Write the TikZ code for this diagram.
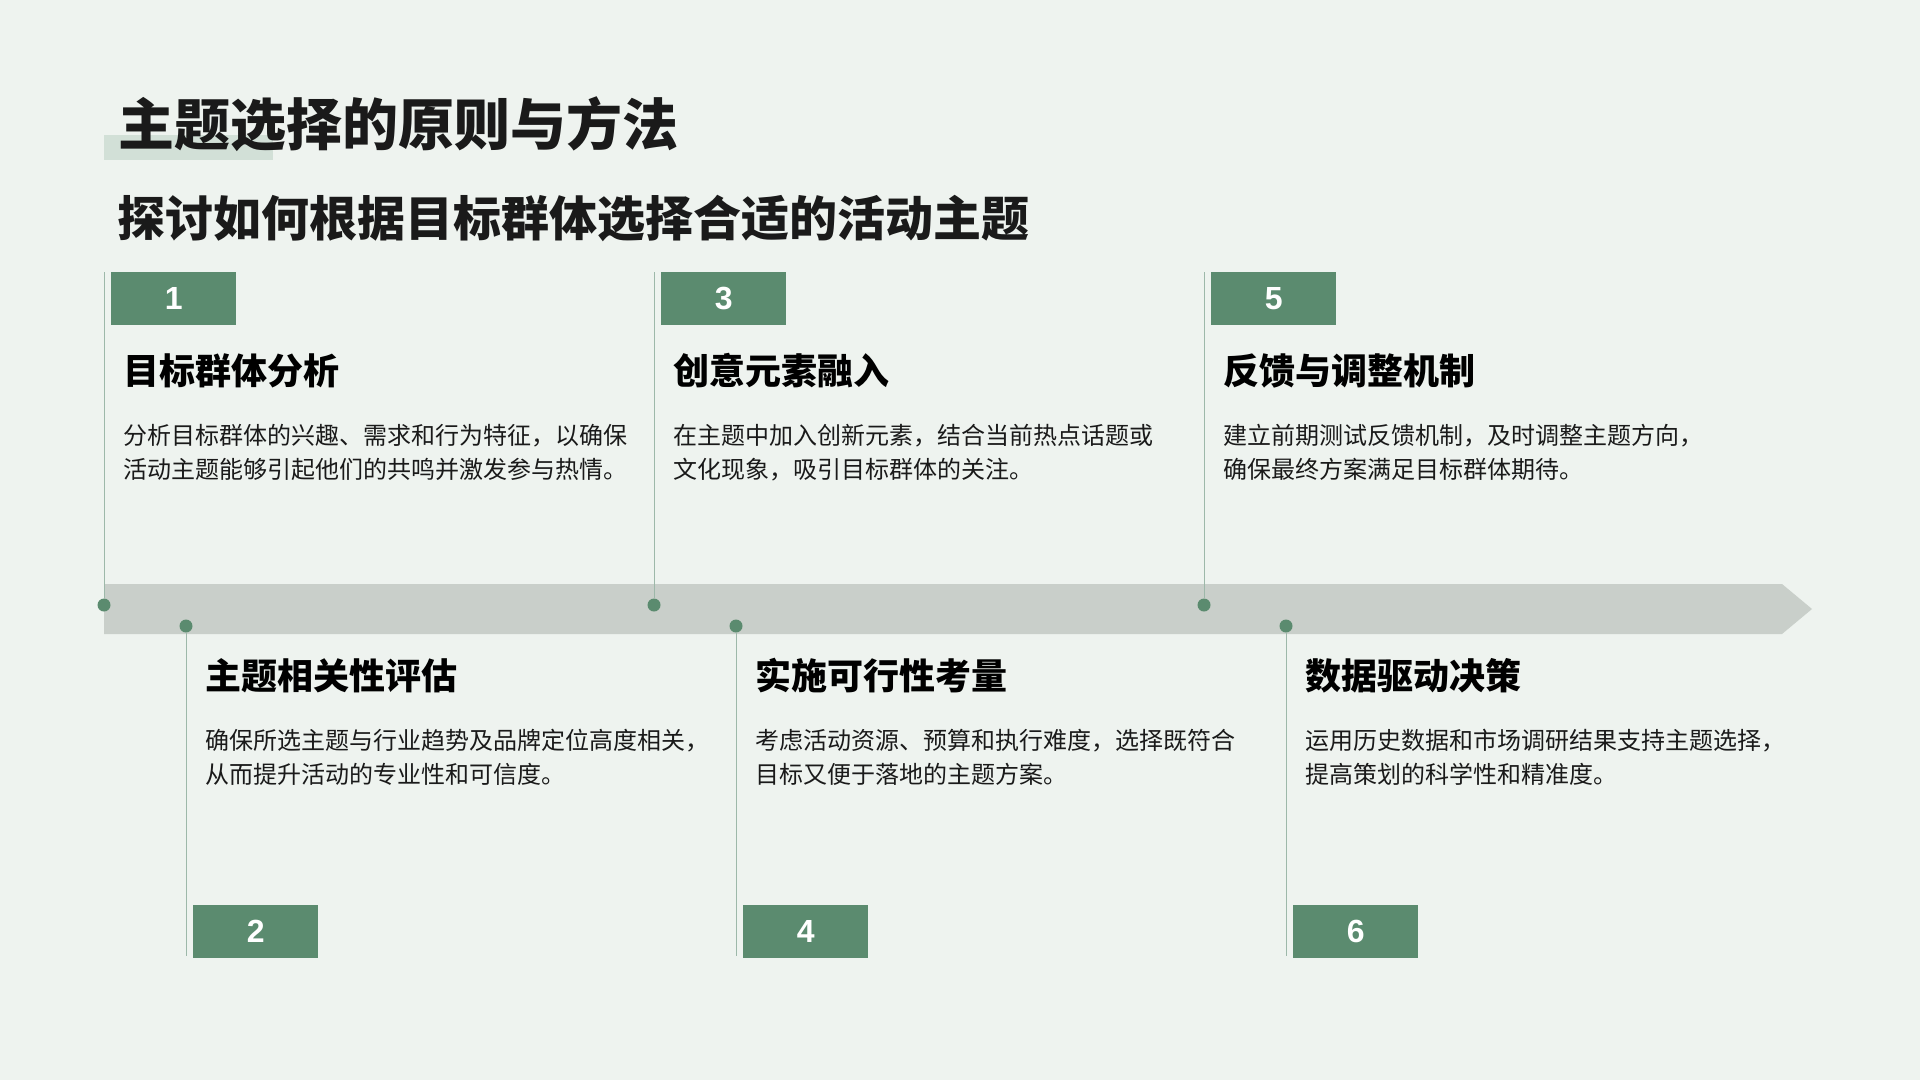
\documentclass[tikz,border=0pt]{standalone}
\usepackage{fontspec}
\setmainfont{Noto Sans CJK SC}
\newfontfamily\numfont{Liberation Sans}
\definecolor{bgcol}{HTML}{EEF3EF}
\definecolor{boxcol}{HTML}{5B8B6F}
\definecolor{bandcol}{HTML}{C9CFCA}
\definecolor{linecol}{HTML}{9DB8A9}
\definecolor{markcol}{HTML}{D2E0D7}
\definecolor{txtcol}{HTML}{1A1A1A}

\begin{document}
\begin{tikzpicture}[x=1pt,y=-1pt,
    numbox/.style={fill=boxcol,anchor=north west,minimum width=125pt,minimum height=53pt,text=white,font=\numfont\bfseries\fontsize{32}{32}\selectfont},
    tdot/.style={circle,fill=boxcol,minimum size=13pt},
    stem/.style={draw=linecol,line width=1pt},
    headtxt/.style={anchor=base west,text=black,font=\bfseries\fontsize{36}{36}\selectfont},
    bodytxt/.style={anchor=base west,align=left,text=txtcol,font=\fontsize{24}{34}\selectfont}]
    \tikzstyle{every node}+=[inner sep=0pt]
    \fill [bgcol] (0,0) rectangle (1920,1080);
    \useasboundingbox (0,0) rectangle (1920,1080);
    % title
    \fill [markcol] (104,135) rectangle (273,160);
    \node [anchor=base west,text=txtcol,font=\bfseries\fontsize{56}{56}\selectfont] (title) at (118,145) {主题选择的原则与方法};
    \node [anchor=base west,text=txtcol,font=\bfseries\fontsize{48}{48}\selectfont] (subtitle) at (117,236) {探讨如何根据目标群体选择合适的活动主题};
    % band
    \fill [bandcol] (104,584) -- (1782,584) -- (1812,609) -- (1782,634) -- (104,634) -- cycle;
    % step 1
    \coordinate (s1) at (104,272);
    \node [tdot] (d1) at (104,605) {};
    \draw [stem] (s1) -- (d1);
    \node [numbox] (n1) at (111,272) {1};
    \node [headtxt] (h1) at (123,384) {目标群体分析};
    \node [bodytxt] (b1) at (123,478) {分析目标群体的兴趣、需求和行为特征，以确保\\活动主题能够引起他们的共鸣并激发参与热情。};
    % step 2
    \coordinate (s2) at (186,956);
    \node [tdot] (d2) at (186,626) {};
    \draw [stem] (d2) -- (s2);
    \node [numbox] (n2) at (193,905) {2};
    \node [headtxt] (h2) at (205,689) {主题相关性评估};
    \node [bodytxt] (b2) at (205,783) {确保所选主题与行业趋势及品牌定位高度相关，\\从而提升活动的专业性和可信度。};
    % step 3
    \coordinate (s3) at (654,272);
    \node [tdot] (d3) at (654,605) {};
    \draw [stem] (s3) -- (d3);
    \node [numbox] (n3) at (661,272) {3};
    \node [headtxt] (h3) at (673,384) {创意元素融入};
    \node [bodytxt] (b3) at (673,478) {在主题中加入创新元素，结合当前热点话题或\\文化现象，吸引目标群体的关注。};
    % step 4
    \coordinate (s4) at (736,956);
    \node [tdot] (d4) at (736,626) {};
    \draw [stem] (d4) -- (s4);
    \node [numbox] (n4) at (743,905) {4};
    \node [headtxt] (h4) at (755,689) {实施可行性考量};
    \node [bodytxt] (b4) at (755,783) {考虑活动资源、预算和执行难度，选择既符合\\目标又便于落地的主题方案。};
    % step 5
    \coordinate (s5) at (1204,272);
    \node [tdot] (d5) at (1204,605) {};
    \draw [stem] (s5) -- (d5);
    \node [numbox] (n5) at (1211,272) {5};
    \node [headtxt] (h5) at (1223,384) {反馈与调整机制};
    \node [bodytxt] (b5) at (1223,478) {建立前期测试反馈机制，及时调整主题方向，\\确保最终方案满足目标群体期待。};
    % step 6
    \coordinate (s6) at (1286,956);
    \node [tdot] (d6) at (1286,626) {};
    \draw [stem] (d6) -- (s6);
    \node [numbox] (n6) at (1293,905) {6};
    \node [headtxt] (h6) at (1305,689) {数据驱动决策};
    \node [bodytxt] (b6) at (1305,783) {运用历史数据和市场调研结果支持主题选择，\\提高策划的科学性和精准度。};
\end{tikzpicture}
\end{document}
